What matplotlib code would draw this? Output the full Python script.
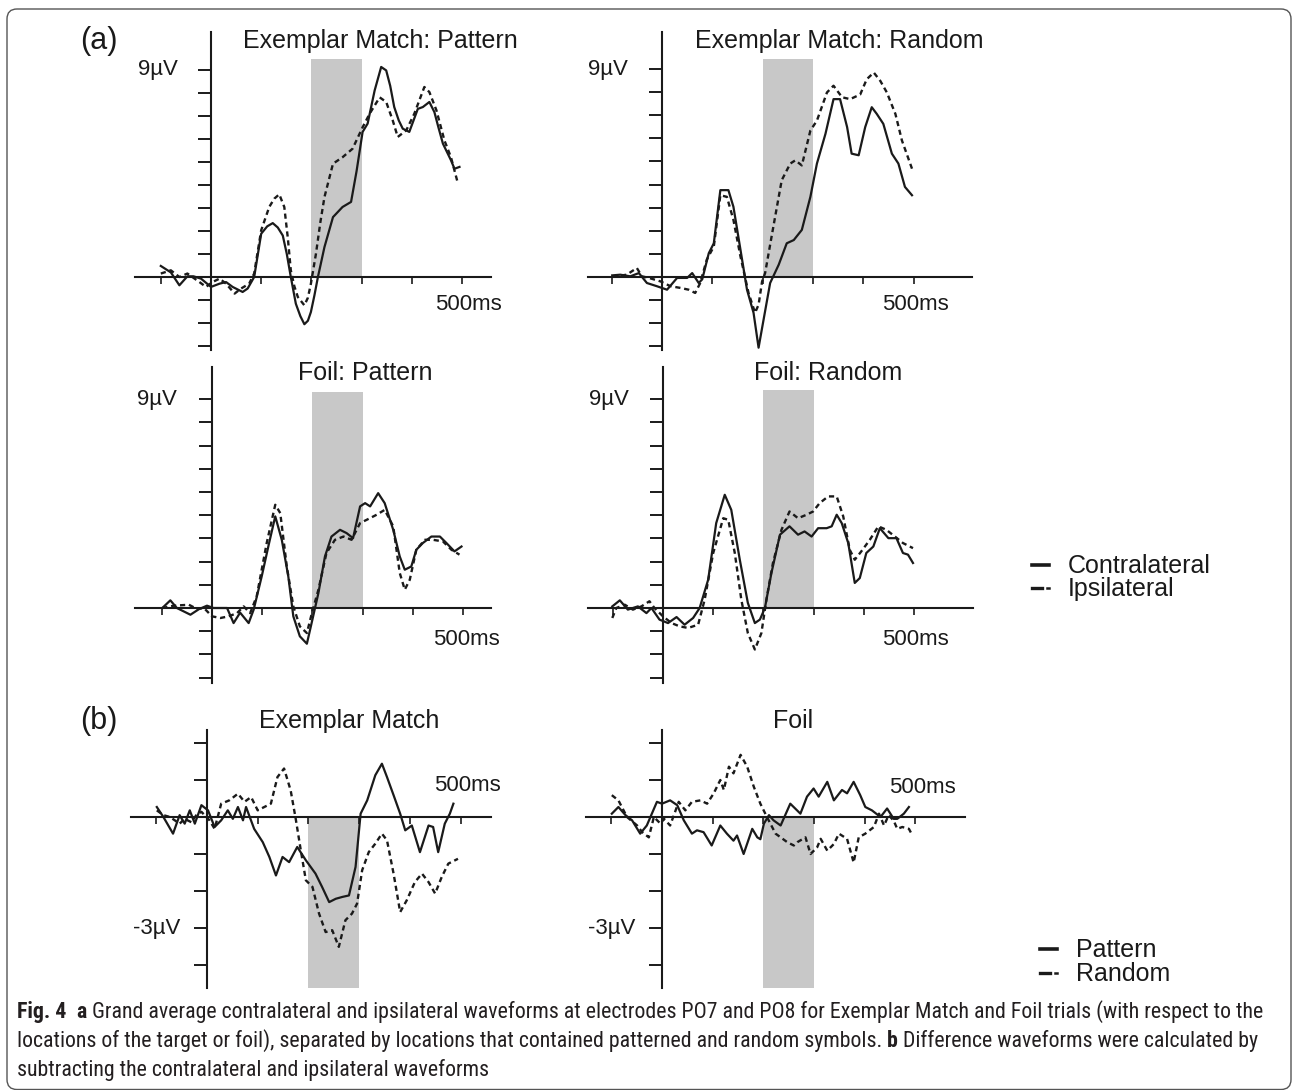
import numpy as np
import matplotlib.pyplot as plt
from matplotlib.lines import Line2D
from matplotlib.patches import FancyBboxPatch

# ---- data (ms, microvolts) ----
x_ticks = [-100, 0, 100, 200, 300, 400, 500]

# (a) Exemplar Match: Pattern
t_emp_con = [-100,-80,-63,-47,-35,-20,0,17,30,43,63,73,86,100,112,123,133,143,151,159,
             169,178,186,193,199,206,213,226,243,262,279,290,302,312,326,339,349,357,365,374,
             382,395,412,422,435,445,453,462,478,485,495]
v_emp_con = [0.48,0.2,-0.36,0.03,0.03,-0.07,-0.43,-0.29,-0.22,-0.43,-0.65,-0.5,0,1.88,2.2,2.34,2.15,1.8,1.0,0,
             -1.16,-1.7,-2.05,-1.9,-1.52,-0.8,0,1.3,2.6,3.04,3.26,4.6,6.3,6.66,8.1,9.12,8.97,8.3,7.38,6.8,
             6.44,6.3,7.3,7.38,7.6,7.16,6.5,5.79,5.07,4.7,4.78]
t_emp_ips = [-100,-80,-63,-47,-23,-10,3,17,30,47,60,76,86,100,116,126,136,146,153,159,
             166,173,186,193,199,209,218,226,243,262,282,302,316,336,349,362,372,389,405,425,
             435,449,465,478,492]
v_emp_ips = [0.15,0.29,0,0.15,-0.22,-0.43,-0.22,-0.07,-0.29,-0.72,-0.5,-0.29,0.15,2.03,3.04,3.4,3.59,3.04,1.7,0.29,
             -0.4,-0.87,-1.23,-0.9,-0.29,1.0,2.4,3.47,4.92,5.2,5.57,6.5,7.09,7.8,7.6,6.8,6.08,6.37,7.09,8.25,
             8.03,7.24,5.93,5.2,4.05]

# (a) Exemplar Match: Random
t_emr_con = [-99,-83,-63,-46,-30,-10,10,30,50,60,73,80,93,103,116,132,142,156,169,182,
             192,202,215,232,248,262,278,295,308,325,341,354,368,377,391,404,417,427,440,457,
             470,483,497]
v_emr_con = [0.07,0.1,0.03,0.17,-0.26,-0.4,-0.55,-0.04,-0.04,0.17,-0.26,-0.1,1.03,1.46,3.76,3.76,3.04,1.18,-0.55,-1.55,
             -3.06,-1.84,-0.26,0.53,1.46,1.6,2.04,3.47,4.91,6.2,7.7,7.7,6.49,5.34,5.27,6.49,7.35,7.06,6.63,5.34,
             4.91,3.9,3.54]
t_emr_ips = [-99,-83,-70,-50,-40,-26,-3,17,36,53,66,76,89,103,116,129,142,156,172,185,
             192,199,205,219,238,255,265,278,295,308,328,341,358,374,394,407,421,434,447,464,
             477,497]
v_emr_ips = [0.03,0.06,0.1,0.39,0.03,-0.04,-0.19,-0.4,-0.47,-0.55,-0.69,-0.26,0.75,1.32,3.54,3.47,2.47,0.89,-0.69,-1.55,
             -1.2,-0.19,0.17,1.89,4.19,4.91,5.05,4.83,6.34,6.77,7.99,8.28,7.78,7.7,7.9,8.56,8.85,8.49,7.99,7.06,
             5.91,4.69]

# (a) Foil: Pattern
t_fp_con = [-99,-83,-70,-43,-26,-10,3,30,43,56,73,83,99,113,126,139,152,162,175,189,
            200,212,225,238,255,268,281,295,305,315,331,344,361,374,384,397,407,420,437,454,
            467,483,497]
v_fp_con = [0,0.33,0,-0.29,-0.05,0.1,0,0,-0.65,-0.2,-0.65,-0.07,1.36,2.73,3.95,2.94,1.36,-0.36,-1.22,-1.54,
            -0.5,0.65,2.22,3.08,3.37,3.23,3.01,4.38,4.52,4.38,4.95,4.52,3.37,2.22,1.65,1.79,2.51,2.8,3.08,3.08,
            2.8,2.44,2.65]
t_fp_ips = [-99,-76,-46,-30,-16,0,17,33,50,63,76,89,109,126,136,149,162,175,189,199,
            212,228,245,262,278,295,308,328,344,361,374,384,394,407,424,440,460,477,493]
v_fp_ips = [0,0.1,0.14,-0.04,0,-0.36,-0.43,-0.36,-0.22,0.07,-0.22,0.5,2.8,4.45,4.09,1.79,0.07,-0.79,-1.08,-0.22,
            0.79,2.37,2.94,3.08,2.94,3.66,3.8,4.02,4.23,3.52,1.51,0.79,1.22,2.51,2.94,2.94,2.87,2.51,2.3]

# (a) Foil: Random
t_fr_con = [-101,-86,-70,-50,-33,-23,-7,10,27,43,60,73,90,106,123,136,153,169,183,193,
            203,216,233,252,269,282,296,309,326,336,346,356,369,382,392,405,419,432,449,465,
            478,488,498]
v_fr_con = [0.07,0.33,-0.07,0.07,-0.22,0,-0.5,-0.65,-0.39,-0.72,-0.43,0,1.22,3.66,4.88,4.23,2.08,0.22,-0.65,-0.5,
            0,1.51,3.16,3.52,3.16,3.3,3.08,3.44,3.44,3.52,4.02,3.66,2.8,1.08,1.29,2.37,2.65,3.44,3.01,3.01,
            2.37,2.3,1.94]
t_fr_ips = [-101,-93,-76,-60,-43,-27,-17,0,17,33,50,70,83,100,120,130,143,156,169,183,
            196,206,219,236,252,269,286,299,312,329,346,359,372,382,395,412,429,445,462,478,498]
v_fr_ips = [-0.43,0,0.14,-0.07,0.07,0.29,0,-0.36,-0.65,-0.79,-0.86,-0.72,0.36,2.37,3.87,3.8,2.37,0.36,-1.08,-1.79,
            -1.08,0.36,1.94,3.37,4.16,3.87,4.02,4.16,4.52,4.81,4.81,3.95,2.51,2.08,2.44,2.94,3.52,3.37,3.08,2.8,2.58]

# (b) difference waves, Exemplar Match
t_dem_pat = [-99,-86,-67,-54,-44,-34,-24,-11,2,15,28,41,51,61,71,77,93,110,123,136,
             149,162,178,195,214,227,241,254,267,280,293,303,316,332,345,355,368,381,391,404,
             420,437,446,456,469,479,486]
v_dem_pat = [0.27,0,-0.45,0.05,-0.18,0.18,-0.18,0.32,0.18,-0.27,-0.09,0.18,-0.05,0.27,-0.09,0.27,-0.32,-0.68,-1.08,-1.58,
             -1.08,-1.22,-0.81,-1.17,-1.53,-1.89,-2.3,-2.21,-2.16,-2.12,-1.35,0.09,0.45,1.13,1.44,1.08,0.59,0.09,-0.36,-0.23,
             -0.95,-0.23,-0.27,-0.95,-0.18,0.09,0.36]
t_dem_rnd = [-99,-86,-73,-54,-44,-31,-21,-11,5,15,28,44,61,74,87,100,113,126,139,152,
             165,175,185,195,208,221,234,247,260,273,286,296,306,319,332,345,355,368,381,394,
             410,424,437,450,463,476,495]
v_dem_rnd = [0.18,0.05,0,-0.18,-0.05,-0.14,0.05,0.14,-0.09,-0.32,0.36,0.45,0.63,0.41,0.54,0.18,0.27,0.36,1.08,1.31,
             0.72,-0.05,-0.9,-1.71,-1.89,-2.61,-3.11,-3.06,-3.51,-2.79,-2.61,-2.34,-1.44,-0.95,-0.72,-0.45,-0.63,-1.53,-2.57,-2.25,
             -1.76,-1.53,-1.76,-2.07,-1.62,-1.26,-1.13]

# (b) difference waves, Foil
t_dfo_pat = [-99,-86,-72,-59,-43,-30,-10,0,16,30,43,59,69,82,98,115,128,141,148,161,
             178,188,194,201,211,220,234,253,273,286,299,309,326,339,355,365,378,391,401,414,
             431,444,457,464,477,487]
v_dfo_pat = [0.09,0.27,0.05,-0.09,-0.45,-0.23,0.41,0.36,0.45,0.32,-0.09,-0.45,-0.36,-0.41,-0.77,-0.23,-0.45,-0.64,-0.5,-1.0,
             -0.32,-0.55,-0.6,-0.18,0.05,-0.09,-0.23,0.36,0.09,0.55,0.77,0.55,0.95,0.45,0.73,0.64,0.95,0.59,0.27,0.18,
             0,0.23,-0.05,-0.05,0.09,0.27]
t_dfo_rnd = [-99,-86,-69,-49,-39,-26,-16,-3,4,16,33,46,59,76,89,102,115,122,132,141,
             155,168,181,194,207,224,247,260,267,283,293,306,313,326,339,349,365,378,388,401,
             418,428,438,447,457,464,474,487,494]
v_dfo_rnd = [0.59,0.45,0,-0.23,-0.41,-0.55,0,-0.18,-0.05,-0.23,0.41,0.18,0.41,0.45,0.36,0.64,1.0,0.73,1.36,1.18,
             1.68,1.36,0.82,0.36,0,-0.45,-0.68,-0.77,-0.68,-0.55,-1.0,-0.82,-0.59,-0.91,-0.73,-0.45,-0.59,-1.23,-0.55,-0.45,
             -0.27,0.09,-0.23,0.05,-0.1,-0.32,-0.27,-0.32,-0.5]

W, H = 1292, 1090
fig = plt.figure(figsize=(W / 100, H / 100), dpi=100)
plt.rcParams['font.family'] = ['Liberation Sans', 'DejaVu Sans']
ink = '#1a1a1a'
shade = '#c8c8c8'
dash = (0, (2.2, 1.6))


def fx(x):
    return x / W


def fy(y):
    return 1 - y / H


def panel(ox, oy, sx, sy, xlim, ylim, yticks):
    # place axes so that data origin lands on pixel (ox, oy)
    l = ox + xlim[0] * sx
    r = ox + xlim[1] * sx
    t = oy - ylim[1] * sy
    b = oy - ylim[0] * sy
    ax = fig.add_axes([fx(l), fy(b), (r - l) / W, (b - t) / H])
    ax.set_xlim(*xlim)
    ax.set_ylim(*ylim)
    ax.patch.set_visible(False)
    for s in ['top', 'right']:
        ax.spines[s].set_visible(False)
    for s in ['left', 'bottom']:
        ax.spines[s].set_position(('data', 0))
        ax.spines[s].set_linewidth(1.5)
        ax.spines[s].set_color(ink)
    ax.set_xticks(x_ticks)
    ax.set_yticks(yticks)
    ax.tick_params(axis='y', direction='out', length=9.5, width=1.4, color=ink, labelleft=False)
    ax.tick_params(axis='x', direction='out', length=5, width=1.2, color=ink, labelbottom=False)
    return ax


yt_a = [-3, -2, -1, 1, 2, 3, 4, 5, 6, 7, 8, 9]
yt_b = [-4, -3, -2, -1, 1, 2]

a1 = panel(211, 277, 0.502, 23.03, (-151, 557), (-3.17, 10.65), yt_a)
a2 = panel(662, 277, 0.503, 23.1, (-147, 616), (-3.17, 10.62), yt_a)
a3 = panel(212, 608, 0.502, 23.2, (-153, 555), (-3.23, 10.4), yt_a)
a4 = panel(663, 608, 0.502, 23.2, (-149, 617), (-3.23, 10.4), yt_a)
b1 = panel(207, 817, 0.507, 37.0, (-150, 560), (-4.62, 2.35), yt_b)
b2 = panel(662, 817, 0.507, 37.0, (-150, 598), (-4.62, 2.35), yt_b)

for ax, top in [(a1, 9.45), (a2, 9.45), (a3, 9.3), (a4, 9.4)]:
    ax.fill_between([200, 300], 0, top, color=shade, lw=0, zorder=0)
for ax in [b1, b2]:
    ax.fill_between([200, 300], -4.62, 0, color=shade, lw=0, zorder=0)

pairs = [(a1, t_emp_con, v_emp_con, t_emp_ips, v_emp_ips),
         (a2, t_emr_con, v_emr_con, t_emr_ips, v_emr_ips),
         (a3, t_fp_con, v_fp_con, t_fp_ips, v_fp_ips),
         (a4, t_fr_con, v_fr_con, t_fr_ips, v_fr_ips),
         (b1, t_dem_pat, v_dem_pat, t_dem_rnd, v_dem_rnd),
         (b2, t_dfo_pat, v_dfo_pat, t_dfo_rnd, v_dfo_rnd)]
for ax, ts, vs, td, vd in pairs:
    ax.plot(ts, vs, color=ink, lw=1.6, zorder=3, solid_joinstyle='round')
    ax.plot(td, vd, color=ink, lw=1.7, ls=dash, zorder=3)

lab = dict(fontsize=16, color=ink)
for ax, xr in [(a1, -66), (a2, -68), (a3, -70), (a4, -68)]:
    ax.text(xr, 9, '9µV', ha='right', va='center', **lab)
for ax in [b1, b2]:
    ax.text(-53, -3, '-3µV', ha='right', va='center', **lab)
a1.text(512, -1.2, '500ms', ha='center', va='center', **lab)
a2.text(503, -1.2, '500ms', ha='center', va='center', **lab)
a3.text(506, -1.34, '500ms', ha='center', va='center', **lab)
a4.text(503, -1.34, '500ms', ha='center', va='center', **lab)
b1.text(513, 0.84, '500ms', ha='center', va='center', **lab)
b2.text(513, 0.81, '500ms', ha='center', va='center', **lab)

titles = [(380, 41, 'Exemplar Match: Pattern'), (839, 41, 'Exemplar Match: Random'),
          (365, 373, 'Foil: Pattern'), (828, 373, 'Foil: Random'),
          (349, 721, 'Exemplar Match'), (793, 721, 'Foil')]
for x, y, s in titles:
    fig.text(fx(x), fy(y), s, fontsize=18, color=ink, ha='center', va='center')
fig.text(fx(99), fy(41), '(a)', fontsize=22, color=ink, ha='center', va='center')
fig.text(fx(99), fy(721), '(b)', fontsize=22, color=ink, ha='center', va='center')


def key(x0, y, text, tx, dashed):
    if dashed:
        fig.add_artist(Line2D([fx(x0), fx(x0 + 10)], [fy(y), fy(y)], color=ink, lw=2.4))
        fig.add_artist(Line2D([fx(x0 + 15), fx(x0 + 16.5)], [fy(y), fy(y)], color=ink, lw=1.8))
    else:
        fig.add_artist(Line2D([fx(x0), fx(x0 + 17)], [fy(y), fy(y)], color=ink, lw=2.6))
    fig.text(fx(tx), fy(y + 1), text, fontsize=18, color=ink, ha='left', va='center')


key(1032, 565, 'Contralateral', 1068, False)
key(1032, 588, 'Ipsilateral', 1068, True)
key(1040, 949, 'Pattern', 1076, False)
key(1040, 973, 'Random', 1076, True)

# caption, sized so the first line spans the box like the original
cap_font = ['Liberation Sans Narrow', 'Roboto Condensed', 'Open Sans Condensed', 'Roboto', 'DejaVu Sans']
cap_col = '#231f20'
rend = fig.canvas.get_renderer()

cap_lines = [
    (1012, [('Fig. 4', True, 2), ('a', True, 1),
            ('Grand average contralateral and ipsilateral waveforms at electrodes PO7 and PO8 for '
             'Exemplar Match and Foil trials (with respect to the', False, 0)]),
    (1041, [('locations of the target or foil), separated by locations that contained patterned and '
             'random symbols.', False, 1), ('b', True, 1),
            ('Difference waveforms were calculated by', False, 0)]),
    (1070, [('subtracting the contralateral and ipsilateral waveforms', False, 0)]),
]


def width(s, size, bold=False):
    t = fig.text(0, 0, s, fontsize=size, family=cap_font, fontstretch='condensed',
                 fontweight='bold' if bold else 'normal')
    w = t.get_window_extent(renderer=rend).width
    t.remove()
    return w


def run_width(runs, size):
    sp = width('x x', size) - width('xx', size)
    return sum(width(s, size, b) + g * sp for s, b, g in runs)


base = 13.5
cap_size = base * 1248 / run_width(cap_lines[0][1], base)
space = width('x x', cap_size) - width('xx', cap_size)

for y, runs in cap_lines:
    x = 17
    for s, bold, gap in runs:
        t = fig.text(fx(x), fy(y), s, fontsize=cap_size, family=cap_font, fontstretch='condensed',
                     color=cap_col, fontweight='bold' if bold else 'normal', ha='left', va='center')
        x += t.get_window_extent(renderer=rend).width + gap * space

box = FancyBboxPatch((0.07, 0.005), 12.84, 10.805, boxstyle='round,pad=0,rounding_size=0.1',
                     transform=fig.dpi_scale_trans, fill=False, ec='#555555', lw=1.0)
fig.add_artist(box)

fig.savefig('out.png', dpi=100)
